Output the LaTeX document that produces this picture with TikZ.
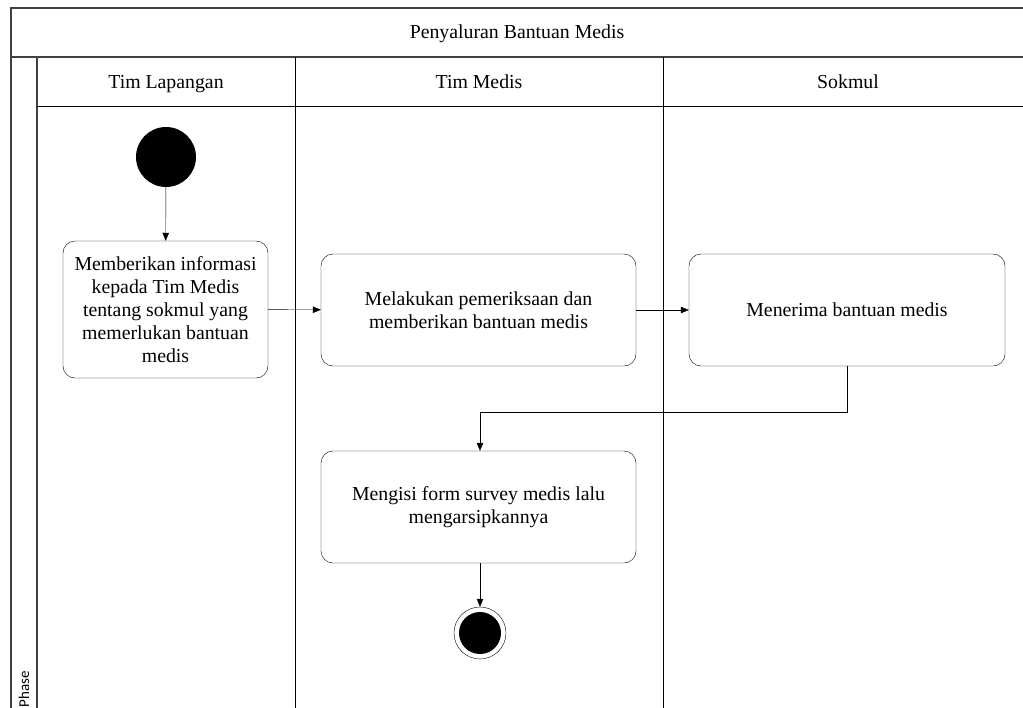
\documentclass[tikz,border=0pt]{standalone}
\usepackage{fontspec}
\setmainfont{Liberation Serif}
\newfontfamily\phasefont{Carlito}
\usetikzlibrary{shapes, arrows.meta, positioning}

\begin{document}
\begin{tikzpicture}[x=1pt, y=-1pt, font=\fontsize{19.8}{23}\selectfont]
    \tikzstyle{lane} = [draw=black!75, line width=1.3pt]
    \tikzstyle{head} = [anchor=base]
    \tikzstyle{act} = [draw, rounded corners=12pt, align=center, inner sep=2pt]
    \tikzstyle{line} = [draw, -{Triangle[length=8pt, width=6.5pt]}]

    \clip (0,0) rectangle (1023,707);

    % Swimlane frame
    \draw[lane] (11,8) rectangle (1040,720);
    \draw[lane] (11,57) -- (1040,57);
    \draw[lane] (37,57) -- (37,720);
    \draw[black] (37,106) -- (1040,106);
    \draw[black] (295,57) -- (295,720);
    \draw[black] (663,57) -- (663,720);

    % Titles
    \node[head] (title) at (517,38) {Penyaluran Bantuan Medis};
    \node[head] (lap) at (166,88) {Tim Lapangan};
    \node[head] (med) at (479,88) {Tim Medis};
    \node[head] (sok) at (848,88) {Sokmul};
    \node[rotate=90, anchor=west, font=\phasefont\fontsize{15}{17}\selectfont] (phase) at (24,711) {Phase};

    % Activities
    \node[circle, fill=black, minimum size=60pt, inner sep=0pt] (start) at (166,157) {};
    \node[act, minimum width=205pt, minimum height=137pt] (info) at (165.5,309.5)
        {Memberikan informasi\\kepada Tim Medis\\tentang sokmul yang\\memerlukan bantuan\\medis};
    \node[act, minimum width=315pt, minimum height=112pt] (periksa) at (478.5,310)
        {Melakukan pemeriksaan dan\\memberikan bantuan medis};
    \node[act, minimum width=316pt, minimum height=112pt] (terima) at (847,310)
        {Menerima bantuan medis};
    \node[act, minimum width=315pt, minimum height=112pt] (form) at (478.5,507)
        {Mengisi form survey medis lalu\\mengarsipkannya};
    \node[circle, draw, minimum size=52pt, inner sep=0pt] (stop) at (480,633) {};
    \node[circle, fill=black, minimum size=42pt, inner sep=0pt] at (stop) {};

    % Flows
    \draw[line] (start) -- (info);
    \draw[line] (info) -- (periksa);
    \draw[line] (periksa) -- (terima);
    \draw[line] (terima.south) |- (480,412) -- (form.north -| stop);
    \draw[line] (form.south -| stop) -- (stop);
\end{tikzpicture}
\end{document}
